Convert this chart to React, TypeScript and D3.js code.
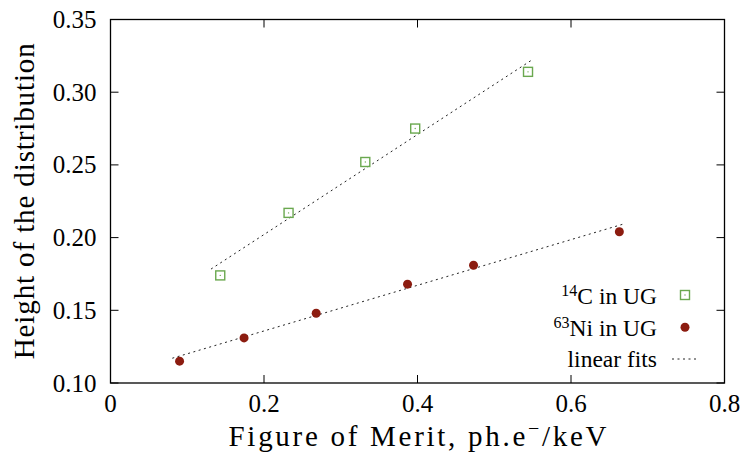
import React from "react";
import * as d3 from "d3";

// Figure of merit (ph.e-/keV) and distribution height for each source
const c14Fom = [0.143, 0.232, 0.332, 0.397, 0.544];
const c14Height = [0.174, 0.217, 0.252, 0.275, 0.314];
const niFom = [0.09, 0.174, 0.268, 0.387, 0.473, 0.663];
const niHeight = [0.115, 0.131, 0.148, 0.168, 0.181, 0.204];

// Linear fit parameters: [intercept, slope, xStart, xEnd]
const c14Fit = [0.1333, 0.344, 0.131, 0.548];
const niFit = [0.1044, 0.157, 0.0805, 0.667];

const xTicks = [0, 0.2, 0.4, 0.6, 0.8];
const yTicks = [0.1, 0.15, 0.2, 0.25, 0.3, 0.35];

const W = 743;
const H = 455;
const M = { left: 110.5, right: 724.5, top: 19.5, bottom: 383 };

const FONT = "'Liberation Serif', 'Times New Roman', serif";
const GREEN = "#6aa84f";
const RED = "#8c1c10";

export default function App() {
  const x = d3.scaleLinear().domain([0, 0.8]).range([M.left, M.right]);
  const y = d3.scaleLinear().domain([0.1, 0.35]).range([M.bottom, M.top]);
  const line = d3
    .line<[number, number]>()
    .x((d) => x(d[0]))
    .y((d) => y(d[1]));

  const fitPath = (f: number[]) =>
    line([
      [f[2], f[0] + f[1] * f[2]],
      [f[3], f[0] + f[1] * f[3]],
    ]) as string;

  const tickLen = 8;
  const sq = 9;

  const legendX = 657;
  const markX = 685;
  const cx = (M.left + M.right) / 2;
  const cy = (M.top + M.bottom) / 2;

  return (
    <svg
      width={W}
      height={H}
      style={{ position: "absolute", left: 0, top: 0, background: "#fff" }}
      fontFamily={FONT}
    >
      {/* ticks, mirrored on all sides */}
      <g stroke="#000" strokeWidth={1}>
        {xTicks.map((t) => (
          <g key={"xt" + t}>
            <line x1={x(t)} x2={x(t)} y1={M.bottom} y2={M.bottom - tickLen} />
            <line x1={x(t)} x2={x(t)} y1={M.top} y2={M.top + tickLen} />
          </g>
        ))}
        {yTicks.map((t) => (
          <g key={"yt" + t}>
            <line x1={M.left} x2={M.left + tickLen} y1={y(t)} y2={y(t)} />
            <line x1={M.right} x2={M.right - tickLen} y1={y(t)} y2={y(t)} />
          </g>
        ))}
      </g>

      {/* tick labels */}
      <g fontSize={25} fill="#000">
        {xTicks.map((t) => (
          <text key={"xl" + t} x={x(t)} y={412} textAnchor="middle">
            {t === 0 ? "0" : d3.format(".1f")(t)}
          </text>
        ))}
        {yTicks.map((t) => (
          <text
            key={"yl" + t}
            x={96.5}
            y={y(t)}
            textAnchor="end"
            dominantBaseline="central"
          >
            {d3.format(".2f")(t)}
          </text>
        ))}
      </g>

      {/* fit lines */}
      <g fill="none" stroke="#222" strokeWidth={1} strokeDasharray="2,3.5">
        <path d={fitPath(c14Fit)} />
        <path d={fitPath(niFit)} />
      </g>

      {/* 14C points: open squares with centre dot */}
      {c14Fom.map((v, i) => (
        <g key={"c" + i}>
          <rect
            x={x(v) - sq / 2}
            y={y(c14Height[i]) - sq / 2}
            width={sq}
            height={sq}
            fill="none"
            stroke={GREEN}
            strokeWidth={1.4}
          />
          <circle cx={x(v)} cy={y(c14Height[i])} r={0.7} fill={GREEN} />
        </g>
      ))}

      {/* 63Ni points: filled circles */}
      {niFom.map((v, i) => (
        <circle key={"n" + i} cx={x(v)} cy={y(niHeight[i])} r={4.5} fill={RED} />
      ))}

      {/* frame */}
      <rect
        x={M.left}
        y={M.top}
        width={M.right - M.left}
        height={M.bottom - M.top}
        fill="none"
        stroke="#000"
        strokeWidth={1.3}
      />

      {/* legend */}
      <g fontSize={23.5} fill="#000">
        <text x={legendX} y={303.5} textAnchor="end">
          <tspan fontSize={16} dy={-8}>14</tspan>
          <tspan dy={8}>C in UG</tspan>
        </text>
        <rect
          x={markX - sq / 2}
          y={295 - sq / 2}
          width={sq}
          height={sq}
          fill="none"
          stroke={GREEN}
          strokeWidth={1.4}
        />
        <circle cx={markX} cy={295} r={0.7} fill={GREEN} />

        <text x={legendX} y={335.5} textAnchor="end">
          <tspan fontSize={16} dy={-8}>63</tspan>
          <tspan dy={8}>Ni in UG</tspan>
        </text>
        <circle cx={markX} cy={327.3} r={4.5} fill={RED} />

        <text x={legendX} y={366.5} textAnchor="end">
          linear fits
        </text>
        <line
          x1={672}
          x2={699}
          y1={359}
          y2={359}
          stroke="#222"
          strokeWidth={1}
          strokeDasharray="2,3.5"
        />
      </g>

      {/* axis titles */}
      <text
        x={cx - 189}
        y={446}
        fontSize={29}
        textLength={378}
        lengthAdjust="spacing"
      >
        Figure of Merit, ph.e
        <tspan fontSize={20} dy={-11}>−</tspan>
        <tspan dy={11}>/keV</tspan>
      </text>
      <text
        transform={`translate(34,${cy}) rotate(-90)`}
        textAnchor="middle"
        fontSize={29}
        textLength={316}
        lengthAdjust="spacing"
      >
        Height of the distribution
      </text>
    </svg>
  );
}
